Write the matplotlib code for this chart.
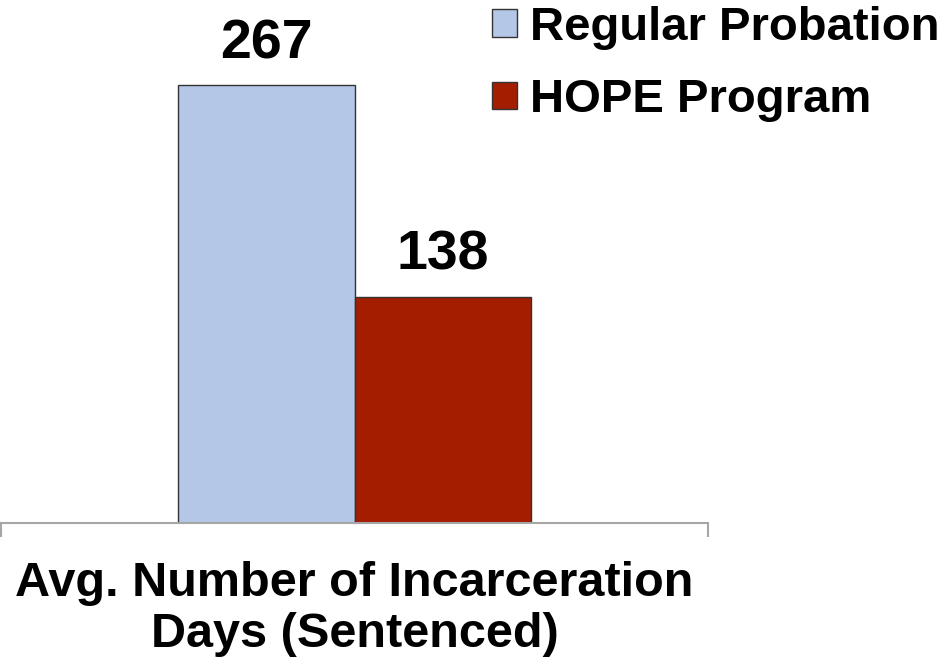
import matplotlib
matplotlib.use("Agg")
import matplotlib.pyplot as plt

# data
groups = ["Regular Probation", "HOPE Program"]
values = [267, 138]
colors = ["#b4c7e7", "#a51d00"]
category = "Avg. Number of Incarceration\nDays (Sentenced)"

plt.rcParams['font.family'] = ['Liberation Sans', 'DejaVu Sans']
plt.rcParams['font.weight'] = 'bold'

W, H = 948, 660
fig = plt.figure(figsize=(W / 100, H / 100), dpi=100)
# axes placed in pixels: x 1..708, baseline at y=523 from top
ax = fig.add_axes([1 / W, (H - 523) / H, 707 / W, 492 / H])

bw = 0.249
offsets = [-bw / 2, bw / 2]
for off, v, c, g in zip(offsets, values, colors, groups):
    ax.bar(off, v, width=bw, color=c, edgecolor="#333333", linewidth=1, label=g, zorder=2)
    ax.text(off, v + 9, str(v), ha="center", va="bottom", fontsize=40, fontweight="bold")

ax.set_xlim(-0.5, 0.5)
ax.set_ylim(0, 300)
for s in ["top", "left", "right"]:
    ax.spines[s].set_visible(False)
ax.spines["bottom"].set_color("#a6a6a6")
ax.spines["bottom"].set_linewidth(1.5)
ax.set_yticks([])
ax.set_xticks([-0.5, 0.5])
ax.set_xticklabels([])
ax.tick_params(axis="x", length=10, width=1.5, color="#a6a6a6", direction="out")
ax.set_xlabel(category, fontsize=35, fontweight="bold", labelpad=14, linespacing=1.17)

leg = fig.legend(loc="upper left", bbox_to_anchor=(492 / W, 1 - 6 / H), frameon=False,
                 fontsize=34, handlelength=0.52, handleheight=0.52, handletextpad=0.28,
                 labelspacing=0.6, borderaxespad=0, borderpad=0)
for t in leg.get_texts():
    t.set_fontweight("bold")

fig.savefig("out.png", dpi=100)
